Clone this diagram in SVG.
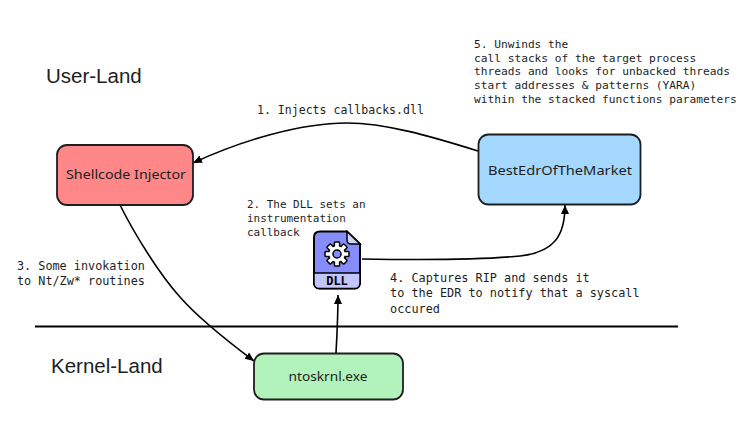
<svg xmlns="http://www.w3.org/2000/svg" width="741" height="427" viewBox="0 0 741 427">
<style>
.box{stroke:#1e1e1e;stroke-width:1.8}
.hand{font-family:"Noto Sans","DejaVu Sans",sans-serif;font-size:13px;fill:#1e1e1e;text-anchor:middle}
.mono{font-family:"DejaVu Sans Mono","Liberation Mono",monospace;font-size:11.2px;fill:#1e1e1e}
.land{font-family:"Liberation Sans",Arial,sans-serif;font-size:20.5px;fill:#1e1e1e}
.c{fill:none;stroke:#000;stroke-width:1.6}
.t{fill:#fff;stroke:#000;stroke-width:1.5}
</style>
<defs>
<marker id="a" markerUnits="userSpaceOnUse" markerWidth="10" markerHeight="9" refX="9" refY="4" orient="auto"><path d="M0 0L9 4L0 8z" fill="#000"/></marker>
<rect id="tooth" x="-2.600" y="-12" width="5.200" height="6" rx="0.800" class="t"/>
</defs>
<rect width="741" height="427" fill="#fff"/>
<g id="connectors">
<path class="c" marker-end="url(#a)" d="M478 151C430 136 385 123 347 123C300 123 240 141 193 163"/>
<path class="c" marker-end="url(#a)" d="M120 205C135 235 160 275 180 297C200 320 230 343 254 361"/>
<path class="c" marker-end="url(#a)" d="M336 353C337 335 338 315 338 295"/>
<path class="c" marker-end="url(#a)" d="M362 259C420 260 480 260 520 256C555 252 565 235 565 205"/>
<path d="M35 326.500H678" fill="none" stroke="#000" stroke-width="2"/>
</g>
<g id="shellcode-injector"><rect class="box" x="57" y="145" width="136" height="60" rx="10" fill="#ff8787"/><text class="hand" x="126" y="179" textLength="120" lengthAdjust="spacingAndGlyphs">Shellcode Injector</text></g>
<g id="best-edr"><rect class="box" x="478.500" y="134.500" width="162" height="70" rx="10" fill="#a5d8ff"/><text class="hand" x="560" y="175" textLength="144" lengthAdjust="spacingAndGlyphs">BestEdrOfTheMarket</text></g>
<g id="ntoskrnl"><rect class="box" x="254" y="353.500" width="149" height="46" rx="10" fill="#b2f2bb"/><text class="hand" x="328" y="381" textLength="79" lengthAdjust="spacingAndGlyphs">ntoskrnl.exe</text></g>
<g id="dll">
<path d="M320 231.500H347L360 244V283C360 286 358 288.500 355 288.500H319C316 288.500 314 286 314 283V237C314 233.500 316 231.500 320 231.500Z" fill="#868dfb" stroke="#000" stroke-width="2"/>
<path d="M347 231.500V240C347 243 349 244 351 244H360Z" fill="#d0d3fd" stroke="#000" stroke-width="1.500"/>
<path d="M314 273H360V283C360 286 358 288.500 355 288.500H319C316 288.500 314 286 314 283Z" fill="#c3c6fc" stroke="#000" stroke-width="1.500"/>
<g transform="translate(337 254)">
<circle r="8.500" class="t"/>
<use href="#tooth"/><use href="#tooth" transform="rotate(45)"/><use href="#tooth" transform="rotate(90)"/><use href="#tooth" transform="rotate(135)"/><use href="#tooth" transform="rotate(180)"/><use href="#tooth" transform="rotate(225)"/><use href="#tooth" transform="rotate(270)"/><use href="#tooth" transform="rotate(315)"/>
<circle r="7.700" fill="#fff"/>
<circle r="4" fill="#868dfb" stroke="#000" stroke-width="1.500"/>
</g>
<text x="337" y="285" text-anchor="middle" font-family="'DejaVu Sans Mono',monospace" font-size="12" font-weight="700" fill="#000">DLL</text>
</g>
<g id="labels">
<text class="land" x="46" y="83">User-Land</text>
<text class="land" x="51" y="373">Kernel-Land</text>
<text class="mono"><tspan x="474" y="48">5. Unwinds the</tspan><tspan x="474" y="62">call stacks of the target process</tspan><tspan x="474" y="75">threads and looks for unbacked threads</tspan><tspan x="474" y="89">start addresses &amp; patterns (YARA)</tspan><tspan x="474" y="103">within the stacked functions parameters</tspan></text>
<text class="mono" style="font-size:11.55px" x="257" y="114">1. Injects callbacks.dll</text>
<text class="mono" style="font-size:10.95px"><tspan x="247" y="208">2. The DLL sets an</tspan><tspan x="247" y="222">instrumentation</tspan><tspan x="247" y="236">callback</tspan></text>
<text class="mono" style="font-size:11.8px"><tspan x="17" y="270">3. Some invokation</tspan><tspan x="17" y="285">to Nt/Zw* routines</tspan></text>
<text class="mono" style="font-size:11.85px"><tspan x="390" y="282">4. Captures RIP and sends it</tspan><tspan x="390" y="297">to the EDR to notify that a syscall</tspan><tspan x="390" y="313">occured</tspan></text>
</g>
</svg>
